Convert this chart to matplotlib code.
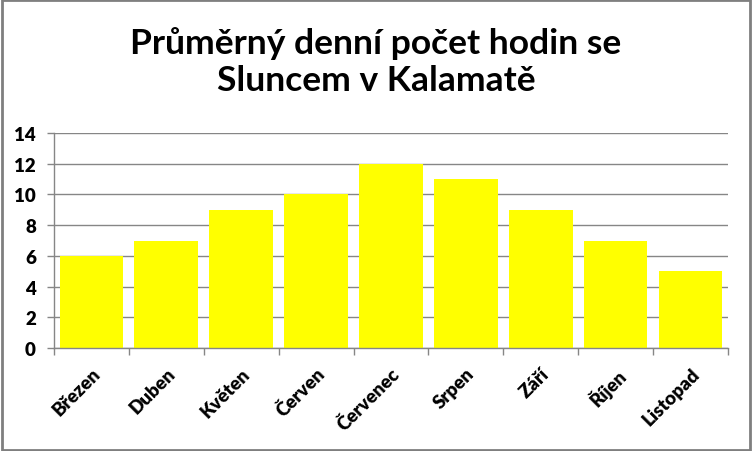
import matplotlib
matplotlib.use("Agg")
import matplotlib.pyplot as plt
from matplotlib.patches import Rectangle
import numpy as np

# Data
months = ['Březen', 'Duben', 'Květen', 'Červen', 'Červenec',
          'Srpen', 'Září', 'Říjen', 'Listopad']
sun_hours = [6, 7, 9, 10, 12, 11, 9, 7, 5]
y_ticks = [0, 2, 4, 6, 8, 10, 12, 14]

title = 'Průměrný denní počet hodin se\nSluncem v Kalamatě'

plt.rcParams['font.family'] = ['Lato', 'DejaVu Sans']
grid_col = '#868686'

fig = plt.figure(figsize=(7.52, 4.52), dpi=100)
ax = fig.add_axes([0.0718, 0.2279, 0.8962, 0.4756])

x = np.arange(len(months))
ax.bar(x, sun_hours, width=0.85, color='#FFFF00', edgecolor='none', zorder=2)

ax.set_xlim(-0.5, len(months) - 0.5)
ax.set_ylim(0, 14)
ax.set_yticks(y_ticks)
ax.set_yticklabels([str(v) for v in y_ticks], fontsize=13.5, fontweight='heavy')
ax.set_xticks(np.arange(-0.5, len(months), 1.0))
ax.set_xticklabels([])
ax.set_xticks(x, minor=True)
ax.set_xticklabels(months, minor=True, rotation=45, ha='right',
                   rotation_mode='anchor', fontsize=13.5, fontweight='heavy')
ax.tick_params(axis='x', which='minor', length=0, pad=12)
ax.tick_params(axis='x', which='major', length=5, color=grid_col, width=1)
ax.tick_params(axis='y', length=5, color=grid_col, width=1, pad=8)

ax.yaxis.grid(True, color=grid_col, linewidth=1)
ax.set_axisbelow(True)
for side in ['top', 'right']:
    ax.spines[side].set_visible(False)
for side in ['left', 'bottom']:
    ax.spines[side].set_color(grid_col)
    ax.spines[side].set_linewidth(1)

fig.text(0.5, 0.785, title, ha='center', va='bottom', fontsize=25.5,
         fontweight='bold', linespacing=1.2)

# chart border
fig.patches.append(Rectangle((0.002, 0.003), 0.996, 0.994, transform=fig.transFigure,
                             fill=False, edgecolor='#7f7f7f', linewidth=2))

fig.savefig('out.png', dpi=100)
